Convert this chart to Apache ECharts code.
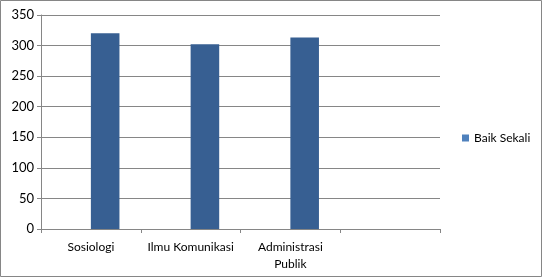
<!DOCTYPE html>
<html>
<head>
<meta charset="utf-8">
<script src="https://cdn.jsdelivr.net/npm/echarts@6/dist/echarts.min.js"></script>
<style>
html,body{margin:0;padding:0;background:#fff;}
#c{width:543px;height:278px;}
</style>
</head>
<body>
<div id="c"></div>
<script>
const categories = ['Sosiologi', 'Ilmu Komunikasi', 'Administrasi\nPublik', ''];
const placeholderValues = [null, null, null, null];
const baikSekali = [320, 302, 313, null];
const yTicks = { min: 0, max: 350, interval: 50 };
const seriesName = 'Baik Sekali';

const chart = echarts.init(document.getElementById('c'), null, { renderer: 'canvas' });
const font = 'Lato, "Open Sans", "Liberation Sans", sans-serif';
chart.setOption({
  animation: false,
  textStyle: { fontFamily: font },
  graphic: [{
    type: 'rect',
    shape: { x: 0.5, y: 0.5, width: 541, height: 276 },
    style: { fill: 'none', stroke: '#868686', lineWidth: 1 },
    silent: true, z: 100
  }],
  grid: { left: 41, right: 103, top: 15, bottom: 49, containLabel: false },
  legend: {
    data: [seriesName],
    left: 462, top: 132, padding: 0,
    icon: 'rect', itemWidth: 7, itemHeight: 7, itemGap: 4,
    itemStyle: { color: '#4F81BD' },
    textStyle: { fontSize: 12, color: '#000', fontFamily: font }
  },
  xAxis: {
    type: 'category',
    data: categories,
    boundaryGap: true,
    axisLine: { show: true, lineStyle: { color: '#868686', width: 1 } },
    axisTick: { show: true, length: 4, lineStyle: { color: '#868686' } },
    axisLabel: { color: '#000', fontSize: 12, margin: 10, lineHeight: 17, interval: 0, fontFamily: font },
    splitLine: { show: false }
  },
  yAxis: {
    type: 'value',
    min: yTicks.min, max: yTicks.max, interval: yTicks.interval,
    axisLine: { show: true, lineStyle: { color: '#868686', width: 1 } },
    axisTick: { show: true, length: 4, lineStyle: { color: '#868686' } },
    axisLabel: { color: '#000', fontSize: 13, margin: 7, fontFamily: font },
    splitLine: { show: true, lineStyle: { color: '#868686', width: 1 } }
  },
  series: [
    {
      name: '_blank', type: 'bar', data: placeholderValues,
      barGap: '0%', barCategoryGap: '42.7%',
      itemStyle: { color: 'rgba(0,0,0,0)' }, silent: true
    },
    {
      name: seriesName, type: 'bar', data: baikSekali,
      barGap: '0%', barCategoryGap: '42.7%',
      itemStyle: { color: '#375F92' }
    }
  ]
});
</script>
</body>
</html>
